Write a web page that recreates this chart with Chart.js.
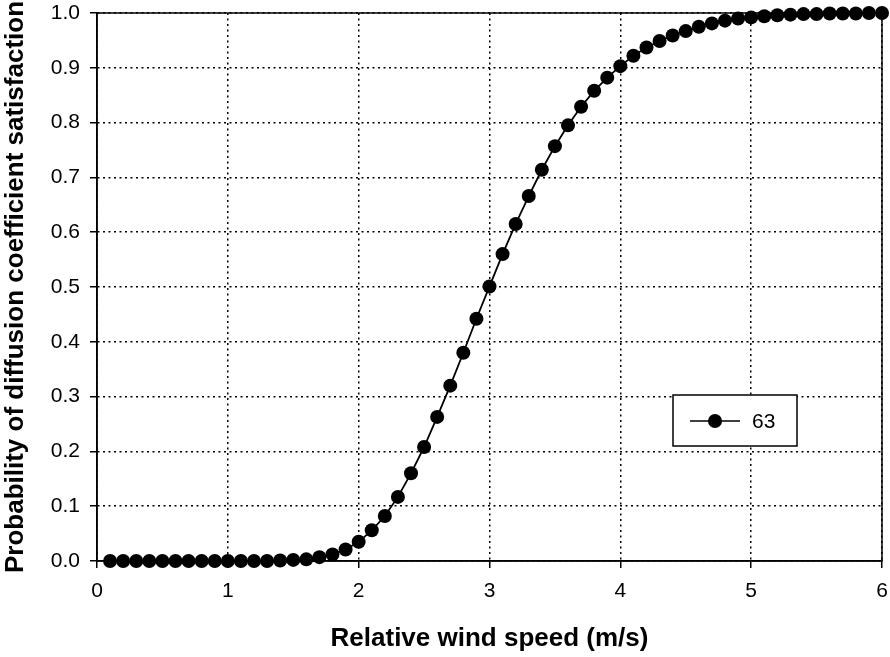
<!DOCTYPE html>
<html>
<head>
<meta charset="utf-8">
<script src="https://cdn.jsdelivr.net/npm/chart.js@4"></script>
<style>
  html, body { margin: 0; padding: 0; background: #fff; }
  #wrap { width: 890px; height: 657px; }
</style>
</head>
<body>
<div id="wrap"><canvas id="probChart" width="890" height="657"></canvas></div>
<script>
const windSpeed = [
    0.1, 0.2, 0.3, 0.4, 0.5, 0.6, 0.7, 0.8, 0.9, 1.0,
    1.1, 1.2, 1.3, 1.4, 1.5, 1.6, 1.7, 1.8, 1.9, 2.0,
    2.1, 2.2, 2.3, 2.4, 2.5, 2.6, 2.7, 2.8, 2.9, 3.0,
    3.1, 3.2, 3.3, 3.4, 3.5, 3.6, 3.7, 3.8, 3.9, 4.0,
    4.1, 4.2, 4.3, 4.4, 4.5, 4.6, 4.7, 4.8, 4.9, 5.0,
    5.1, 5.2, 5.3, 5.4, 5.5, 5.6, 5.7, 5.8, 5.9, 6.0
];
const probability = [
    0.000, 0.000, 0.000, 0.000, 0.000, 0.000, 0.000, 0.000, 0.000, 0.000,
    0.000, 0.000, 0.000, 0.001, 0.002, 0.003, 0.007, 0.012, 0.021, 0.035,
    0.056, 0.082, 0.117, 0.160, 0.208, 0.263, 0.320, 0.380, 0.442, 0.501,
    0.560, 0.615, 0.666, 0.714, 0.757, 0.795, 0.829, 0.858, 0.882, 0.903,
    0.922, 0.937, 0.949, 0.959, 0.967, 0.975, 0.981, 0.986, 0.990, 0.992,
    0.994, 0.996, 0.997, 0.998, 0.998, 0.999, 0.999, 0.999, 1.000, 1.000
];
const seriesLabel = '63';
const xTitle = 'Relative wind speed (m/s)';
const yTitle = 'Probability of diffusion coefficient satisfaction';

const FONT = 'Arial, "Liberation Sans", sans-serif';

// solid box around the plot + the little legend box inside it
const framePlugin = {
    id: 'frame',
    beforeDatasetsDraw(chart) {
        const a = chart.chartArea;
        const c = chart.ctx;
        c.save();
        c.strokeStyle = '#000';
        c.lineWidth = 1.5;
        c.strokeRect(a.left, a.top, a.right - a.left, a.bottom - a.top);
        c.restore();
    },
    afterDraw(chart) {
        const c = chart.ctx;
        const ds = chart.data.datasets[0];
        c.save();
        c.fillStyle = '#fff';
        c.fillRect(673, 395, 124, 51);
        c.strokeStyle = '#000';
        c.lineWidth = 1.5;
        c.strokeRect(673, 395, 124, 51);
        c.beginPath();
        c.moveTo(690, 421);
        c.lineTo(740, 421);
        c.stroke();
        c.beginPath();
        c.arc(715, 421, 7, 0, Math.PI * 2);
        c.fillStyle = '#000';
        c.fill();
        c.font = '21px ' + FONT;
        c.textBaseline = 'middle';
        c.fillText(ds.label, 752, 422);
        c.restore();
    }
};

const ctx = document.getElementById('probChart').getContext('2d');
const probChart = new Chart(ctx, {
    type: 'line',
    data: {
        datasets: [{
            label: seriesLabel,
            data: windSpeed.map((x, i) => ({ x: x, y: probability[i] })),
            borderColor: '#000',
            borderWidth: 1.8,
            backgroundColor: '#000',
            pointRadius: 7,
            pointBackgroundColor: '#000',
            pointBorderWidth: 0,
            tension: 0,
            clip: false
        }]
    },
    options: {
        responsive: false,
        animation: false,
        layout: { padding: { left: 0, right: 8, top: 13, bottom: 3 } },
        plugins: {
            legend: { display: false },
            tooltip: { enabled: false }
        },
        scales: {
            x: {
                type: 'linear',
                min: 0,
                max: 6,
                afterFit(scale) {
                    scale.height = 93;
                    scale.paddingLeft = 0;
                    scale.paddingRight = 0;
                },
                ticks: {
                    stepSize: 1,
                    color: '#000',
                    padding: 11,
                    font: { family: FONT, size: 21 }
                },
                grid: {
                    color: '#000',
                    lineWidth: 1.5,
                    tickLength: 7,
                    tickColor: '#000',
                    tickWidth: 1.5,
                    tickBorderDash: []
                },
                border: { color: '#000', width: 1.5, dash: [2, 3.5] },
                title: {
                    display: true,
                    text: xTitle,
                    color: '#000',
                    padding: 0,
                    font: { family: FONT, size: 26, weight: 'bold' }
                }
            },
            y: {
                min: 0,
                max: 1,
                afterFit(scale) {
                    scale.width = 97;
                    scale.paddingTop = 0;
                    scale.paddingBottom = 0;
                },
                ticks: {
                    stepSize: 0.1,
                    color: '#000',
                    padding: 10,
                    font: { family: FONT, size: 21 },
                    callback: v => v.toFixed(1)
                },
                grid: {
                    color: '#000',
                    lineWidth: 1.5,
                    tickLength: 7,
                    tickColor: '#000',
                    tickWidth: 1.5,
                    tickBorderDash: []
                },
                border: { color: '#000', width: 1.5, dash: [2, 3.5] },
                title: {
                    display: true,
                    text: yTitle,
                    color: '#000',
                    padding: 0,
                    font: { family: FONT, size: 26, weight: 'bold' }
                }
            }
        }
    },
    plugins: [framePlugin]
});
</script>
</body>
</html>
